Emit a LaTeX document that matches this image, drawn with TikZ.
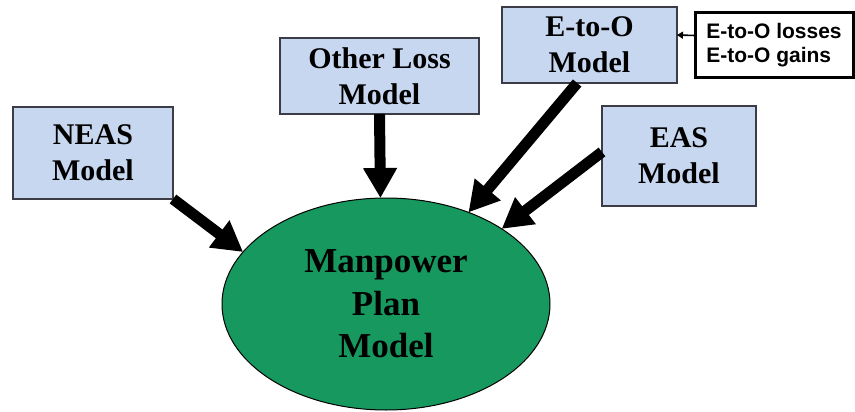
\documentclass[tikz,border=0pt]{standalone}
\usepackage{fontspec}
\setmainfont{Liberation Serif}
\newfontfamily\lsans{Liberation Sans}
\usetikzlibrary{shapes.geometric,arrows.meta}
\definecolor{boxblue}{RGB}{200,215,240}
\definecolor{boxedge}{RGB}{60,60,70}
\definecolor{mpgreen}{RGB}{22,152,94}
\tikzset{
  modelbox/.style={draw=boxedge,line width=1.2pt,fill=boxblue,inner sep=0pt,outer sep=0pt,
    align=center,font=\bfseries\fontsize{30}{36}\selectfont},
  bigarrow/.style={line width=11pt,-{Triangle[width=32pt,length=30pt]},black},
  smallarrow/.style={line width=1.6pt,-{Triangle[width=7pt,length=6pt]},black}
}
\begin{document}
\begin{tikzpicture}[x=1pt,y=-1pt]
\useasboundingbox (0,0) rectangle (855,412);
\fill[white] (0,0) rectangle (855,412);
\node[modelbox,minimum width=160pt,minimum height=92pt] (neas) at (93,153) {NEAS\\Model};
\node[modelbox,minimum width=199pt,minimum height=76pt] (oth) at (379.5,76) {Other Loss\\Model};
\node[modelbox,minimum width=175pt,minimum height=76pt] (eo) at (589.5,45) {E-to-O\\Model};
\node[modelbox,minimum width=154pt,minimum height=100pt] (eas) at (679,156) {EAS\\Model};
\node[draw=black,line width=3pt,fill=white,inner sep=0pt,outer sep=0pt,
  minimum width=158pt,minimum height=65pt,align=left,
  font=\lsans\bfseries\fontsize{21}{24}\selectfont] (loss) at (774,45.5) {E-to-O losses\\E-to-O gains};
\node[ellipse,draw=black,line width=1pt,fill=mpgreen,inner sep=0pt,outer sep=0pt,
  minimum width=328pt,minimum height=212pt,align=center,
  font=\bfseries\fontsize{35}{42.5}\selectfont] (mp) at (386,304) {Manpower\\Plan\\Model};
\draw[bigarrow] (neas.south east) -- (mp.160);
\draw[bigarrow] (oth.south) -- (mp.93);
\draw[bigarrow] (eo.-108) -- (mp.48.6);
\draw[bigarrow] (eas.177) -- (mp.33);
\draw[smallarrow] ([yshift=10pt]loss.west) -- ([yshift=10pt]eo.east);
\end{tikzpicture}
\end{document}
